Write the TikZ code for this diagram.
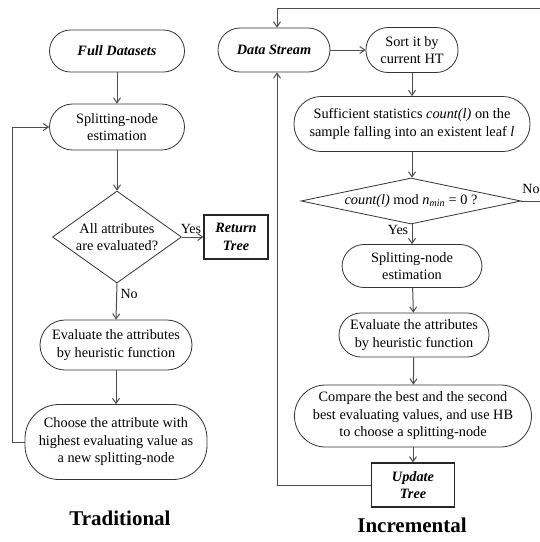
\documentclass[tikz,border=0pt]{standalone}
\usepackage{fontspec}
\setmainfont{Liberation Serif}
\usetikzlibrary{shapes.geometric,arrows.meta}
\begin{document}
\begin{tikzpicture}[x=1pt,y=-1pt,
  txt/.style={font=\fontsize{14.3}{17.5}\selectfont, align=center},
  box/.style={txt, draw=black!80, line width=0.8pt, rounded corners=#1, inner sep=0pt},
  box/.default=21pt,
  sq/.style={txt, draw=black!85, line width=1.1pt, inner sep=0pt},
  dia/.style={txt, diamond, draw=black!80, line width=0.8pt, inner sep=0pt},
  arr/.style={draw=black!70, line width=1pt, -{Straight Barb[length=5pt,width=7pt]}},
  lbl/.style={font=\fontsize{14}{16}\selectfont},
  title/.style={font=\fontsize{21}{24}\selectfont\bfseries}]
\useasboundingbox (0,0) rectangle (540,542);
% Traditional
\node[box=21pt, minimum width=135pt, minimum height=42pt] (full) at (117,51) {\textbf{\textit{Full Datasets}}};
\node[box=23pt, minimum width=135pt, minimum height=46pt] (split1) at (117,127) {Splitting-node\\estimation};
\node[dia, aspect=1.4, inner sep=-4pt, minimum width=129pt, minimum height=92pt] (dia1) at (117,237) {All attributes\\are evaluated?};
\node[sq, minimum width=64pt, minimum height=44pt] (ret) at (236,237) {\textbf{\textit{Return}}\\\textbf{\textit{Tree}}};
\node[box=25pt, minimum width=152pt, minimum height=50pt] (eval1) at (116,345) {Evaluate the attributes\\by heuristic function};
\node[box=34pt, minimum width=182pt, minimum height=75pt] (choose) at (116,442) {Choose the attribute with\\highest evaluating value as\\a new splitting-node};
\node[title] (t1) at (120,518) {Traditional};
\draw[arr] (full) -- (split1);
\draw[arr] (split1) -- (dia1);
\draw[arr] (dia1.east) -- node[lbl, above, pos=0.42] {Yes} (ret.west);
\draw[arr] (dia1.south) -- node[lbl, right, pos=0.3] {No} (eval1.north);
\draw[arr] (eval1) -- (choose);
\coordinate (lb) at (12,442);
\coordinate (lt) at (12,127);
\draw[arr] (choose.west) -- (lb) -- (lt) -- (split1.west);
% Incremental
\node[box=22pt, minimum width=112pt, minimum height=44pt] (ds) at (274,50) {\textbf{\textit{Data Stream}}};
\node[box=22pt, minimum width=92pt, minimum height=45pt] (sort) at (412,50) {Sort it by\\current HT};
\node[box=27pt, minimum width=236pt, minimum height=55pt] (suff) at (412,124) {Sufficient statistics \textit{count(l)} on the\\sample falling into an existent leaf \textit{l}};
\node[dia, aspect=4.9, minimum width=220pt, minimum height=46pt] (dia2) at (411,201) {\textit{count(l)} mod \textit{n}\textsubscript{\textit{min}} = 0 ?};
\node[box=22pt, minimum width=140pt, minimum height=43pt] (split2) at (412,266) {Splitting-node\\estimation};
\node[box=22pt, minimum width=150pt, minimum height=44pt] (eval2) at (414,335) {Evaluate the attributes\\by heuristic function};
\node[box=31pt, minimum width=237pt, minimum height=62pt] (comp) at (413,416) {Compare the best and the second\\best evaluating values, and use HB\\to choose a splitting-node};
\node[sq, minimum width=83pt, minimum height=44pt] (upd) at (413,485) {\textbf{\textit{Update}}\\\textbf{\textit{Tree}}};
\node[title] (t2) at (412,525) {Incremental};
\draw[arr] (ds) -- (sort);
\draw[arr] (sort) -- (suff);
\draw[arr] (suff.south) -- (dia2.north -| suff.south);
\draw[arr] (dia2.south -| split2.north) -- node[lbl, left, pos=0.3] {Yes} (split2.north);
\draw[arr] (split2) -- (eval2);
\draw[arr] (eval2) -- (comp);
\draw[arr] (comp) -- (upd);
\coordinate (ub) at (277,485);
\draw[arr] (upd.west) -- (ub) -- (ds.south -| ub);
\coordinate (nr) at (550,201);
\coordinate (tr) at (550,8);
\coordinate (tl) at (277,8);
\node[lbl] (no2) at (531,189) {No};
\draw[arr] (dia2.east) -- (nr) -- (tr) -- (tl) -- (ds.north -| tl);
\end{tikzpicture}
\end{document}
